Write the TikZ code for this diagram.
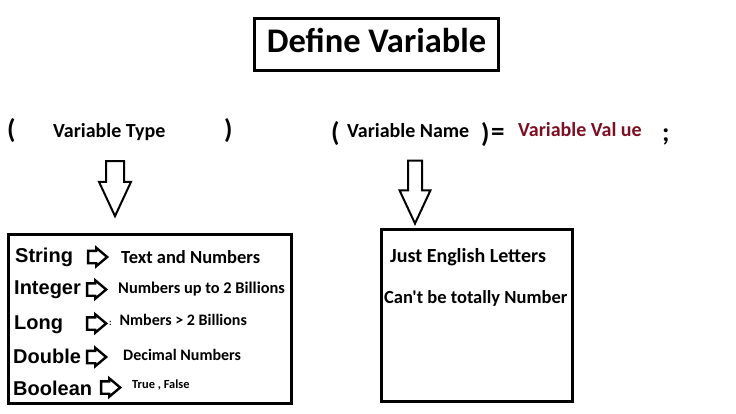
\documentclass[tikz,border=0pt]{standalone}
\usepackage{fontspec}
\setmainfont{Carlito}[Ligatures=TeXOff]
\newfontfamily\arialfont{Liberation Sans}
\usetikzlibrary{shapes.arrows}
\definecolor{xValRed}{RGB}{125,15,35}
\newcommand{\Fs}[1]{\fontsize{#1}{#1}\selectfont\bfseries}
\tikzset{
  titlebox/.style={draw, line width=3pt, inner sep=0pt, minimum width=244pt, minimum height=52pt,
                   text height=22pt, text depth=5pt, font=\Fs{34.5}},
  heading/.style={inner sep=0pt, anchor=base west, font=\Fs{20}},
  paren/.style={inner sep=0pt, anchor=base west, font=\Fs{27}},
  listbox/.style={draw, line width=3pt, inner sep=0pt},
  typename/.style={inner sep=0pt, anchor=base west, font=\arialfont\Fs{20}},
  desc/.style={inner sep=0pt, anchor=base west, font=\Fs{#1}},
  desc/.default=16,
  bigarrow/.style={draw, single arrow, line width=2pt, inner xsep=0pt, rotate=-90,
                   single arrow tip angle=50},
  tinyarrow/.style={draw, single arrow, line width=2.4pt, inner xsep=0pt, inner ysep=5pt,
                    single arrow head extend=3pt, single arrow tip angle=80, minimum height=19pt},
}

\begin{document}
\begin{tikzpicture}[x=1pt, y=-1pt]
    \useasboundingbox (0,0) rectangle (736,414);
    % heading
    \node[titlebox] (title) at (376.5,44.5) {Define Variable};
    % declaration line
    \node[paren]   (lpA)   at (7,139)   {(};
    \node[heading] (vtype) at (53,138)  {Variable Type};
    \node[paren]   (rpA)   at (224,139) {)};
    \node[paren]   (lpB)   at (331,142) {(};
    \node[heading] (vname) at (347,138) {Variable Name};
    \node[paren]   (rpB)   at (481,143) {)};
    \node[paren]   (eq)    at (491,141) {=};
    \node[heading, text=xValRed] (vval) at (518,137) {Variable Val ue};
    \node[paren]   (semi)  at (662,142) {;};
    % block arrows
    \node[bigarrow, inner ysep=8pt, single arrow head extend=7pt, minimum height=55pt]
          (downA) at (115,179) {};
    \node[bigarrow, inner ysep=6pt, single arrow head extend=8.5pt, minimum height=63pt]
          (downB) at (415,184.5) {};
    % boxes
    \node[listbox, minimum width=283pt, minimum height=169pt] (types) at (150,319) {};
    \node[listbox, minimum width=191pt, minimum height=172pt] (rules) at (477,315.5) {};
    % type list
    \node[typename] (tStr)  at (15,262) {String};
    \node[typename] (tInt)  at (14,294) {Integer};
    \node[typename] (tLong) at (14,329) {Long};
    \node[typename] (tDbl)  at (13,363) {Double};
    \node[typename] (tBool) at (13,395) {Boolean};
    \node[tinyarrow] (aStr)  at (94,257)    {};
    \node[tinyarrow] (aInt)  at (93,289.5)  {};
    \node[tinyarrow] (aLong) at (93,323.5)  {};
    \node[tinyarrow] (aDbl)  at (93,357)    {};
    \node[tinyarrow] (aBool) at (107,387.5) {};
    \node[desc=18.5] (dStr)  at (121,263) {Text and Numbers};
    \node[desc=16.4] (dInt)  at (118,293) {Numbers up to 2 Billions};
    \node[desc=16]   (dLong) at (109,325) {{\Fs{9}:}\hspace{8pt}Nmbers > 2 Billions};
    \node[desc=16]   (dDbl)  at (123,360) {Decimal Numbers};
    \node[desc=12.4] (dBool) at (132,388) {True , False};
    % name rules
    \node[desc=20]   (rEng) at (390,262) {Just English Letters};
    \node[desc=18.5] (rNum) at (384,303) {Can't be totally Number};
\end{tikzpicture}
\end{document}
